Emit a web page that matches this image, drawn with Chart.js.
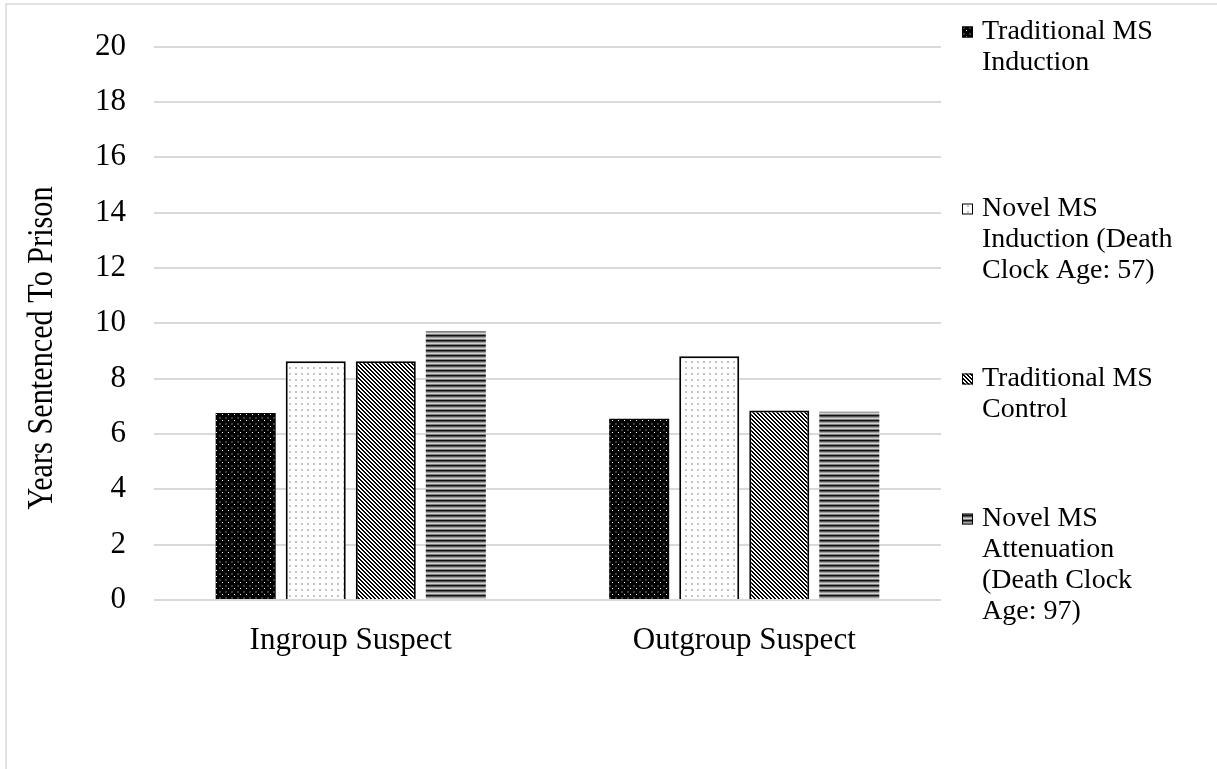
<!DOCTYPE html>
<html>
<head>
<meta charset="utf-8">
<script src="https://cdn.jsdelivr.net/npm/chart.js@4/dist/chart.umd.min.js"></script>
<style>
  html, body { margin: 0; padding: 0; background: #ffffff; }
  #wrap { width: 1217px; height: 769px; position: relative; }
</style>
</head>
<body>
<div id="wrap"><canvas id="chart" width="1217" height="769"></canvas></div>
<script>
// Sentencing outcomes by suspect group and mortality-salience condition
const categories = ['Ingroup Suspect', 'Outgroup Suspect'];
const seriesNames = [
  ['Traditional MS', 'Induction'],
  ['Novel MS', 'Induction (Death', 'Clock Age: 57)'],
  ['Traditional MS', 'Control'],
  ['Novel MS', 'Attenuation', '(Death Clock', 'Age: 97)']
];
const traditionalInduction = [6.76, 6.55];
const novelInduction = [8.63, 8.81];
const traditionalControl = [8.63, 6.85];
const novelAttenuation = [9.71, 6.80];
const yTicks = [0, 2, 4, 6, 8, 10, 12, 14, 16, 18, 20];
const yTitle = 'Years Sentenced To Prison';

const SERIF = '"Liberation Serif", "Times New Roman", serif';

// Monochrome fill patterns, built from small tiles
function makePattern(w, h, paint) {
  const c = document.createElement('canvas');
  c.width = w; c.height = h;
  const g = c.getContext('2d');
  paint(g);
  return document.getElementById('chart').getContext('2d').createPattern(c, 'repeat');
}
const patDarkDots = makePattern(6, 6, g => {
  g.fillStyle = '#000'; g.fillRect(0, 0, 6, 6);
  g.fillStyle = '#3a3a3a'; g.fillRect(3, 3, 2, 2);
  g.fillStyle = '#ffffff'; g.fillRect(0, 0, 1, 1);
});
const patLightDots = makePattern(6, 6, g => {
  g.fillStyle = '#fff'; g.fillRect(0, 0, 6, 6);
  g.fillStyle = '#c4c4c4'; g.fillRect(1, 1, 2, 2);
});
const patDiagonal = makePattern(4, 4, g => {
  g.fillStyle = '#fff'; g.fillRect(0, 0, 4, 4);
  g.fillStyle = '#000';
  for (let r = 0; r < 4; r++) {
    g.fillRect(r % 4, r, 1, 1);
    g.fillRect((r + 1) % 4, r, 1, 1);
  }
});
const patHorizontal = makePattern(1, 5, g => {
  const rows = ['#111111', '#555555', '#a0a0a0', '#d0d0d0', '#808080'];
  rows.forEach((col, i) => { g.fillStyle = col; g.fillRect(0, i, 1, 1); });
});

const fills = [patDarkDots, patLightDots, patDiagonal, patHorizontal];
const borders = [0, 2, 2, 0];

// Outer frame of the figure
const framePlugin = {
  id: 'frame',
  beforeDraw(chart) {
    const ctx = chart.ctx;
    ctx.save();
    ctx.fillStyle = '#fff';
    ctx.fillRect(0, 0, chart.width, chart.height);
    ctx.strokeStyle = '#d9d9d9';
    ctx.lineWidth = 1.5;
    ctx.strokeRect(6, 4, chart.width + 20, chart.height + 20);
    ctx.restore();
  }
};

// Condensed vertical axis title
const yTitlePlugin = {
  id: 'yTitle',
  afterDraw(chart) {
    const ctx = chart.ctx;
    ctx.save();
    ctx.translate(43, 348);
    ctx.rotate(-Math.PI / 2);
    ctx.scale(0.84, 1);
    ctx.font = '36px ' + SERIF;
    ctx.fillStyle = '#000';
    ctx.textAlign = 'center';
    ctx.textBaseline = 'middle';
    ctx.fillText(yTitle, 0, 0);
    ctx.restore();
  }
};

// Right-hand legend with wrapped entries
const legendPlugin = {
  id: 'wrappedLegend',
  afterDraw(chart) {
    const ctx = chart.ctx;
    const firstLineY = [32, 209, 379, 519];
    const lineH = 31;
    const textX = 982, boxX = 962, boxS = 11;
    ctx.save();
    ctx.font = '28px ' + SERIF;
    ctx.textBaseline = 'middle';
    ctx.textAlign = 'left';
    seriesNames.forEach((lines, i) => {
      const y0 = firstLineY[i];
      ctx.fillStyle = fills[i];
      ctx.fillRect(boxX, y0 - boxS / 2, boxS, boxS);
      ctx.strokeStyle = '#000';
      ctx.lineWidth = 1;
      ctx.strokeRect(boxX + 0.5, y0 - boxS / 2 + 0.5, boxS - 1, boxS - 1);
      ctx.fillStyle = '#000';
      lines.forEach((t, k) => ctx.fillText(t, textX, y0 + k * lineH));
    });
    ctx.restore();
  }
};

const values = [traditionalInduction, novelInduction, traditionalControl, novelAttenuation];

new Chart(document.getElementById('chart'), {
  type: 'bar',
  data: {
    labels: categories,
    datasets: values.map((v, i) => ({
      label: seriesNames[i].join(' '),
      data: v,
      backgroundColor: fills[i],
      borderColor: '#000',
      borderWidth: borders[i],
      categoryPercentage: 0.712,
      barPercentage: 0.857
    }))
  },
  options: {
    responsive: false,
    animation: false,
    events: [],
    layout: { padding: { top: 46, right: 276, bottom: 0, left: 0 } },
    plugins: {
      legend: { display: false },
      tooltip: { enabled: false }
    },
    scales: {
      x: {
        grid: { display: false },
        border: { display: false },
        ticks: { color: '#000', font: { family: SERIF, size: 31 }, padding: 14 },
        afterFit(s) { s.height = 169; }
      },
      y: {
        min: 0,
        max: 20,
        afterBuildTicks(s) { s.ticks = yTicks.map(v => ({ value: v })); },
        grid: { color: '#d9d9d9', lineWidth: 2, drawTicks: false },
        border: { display: false },
        ticks: { color: '#000', font: { family: SERIF, size: 31 }, padding: 28 },
        afterFit(s) { s.width = 154; }
      }
    }
  },
  plugins: [framePlugin, yTitlePlugin, legendPlugin]
});
</script>
</body>
</html>
